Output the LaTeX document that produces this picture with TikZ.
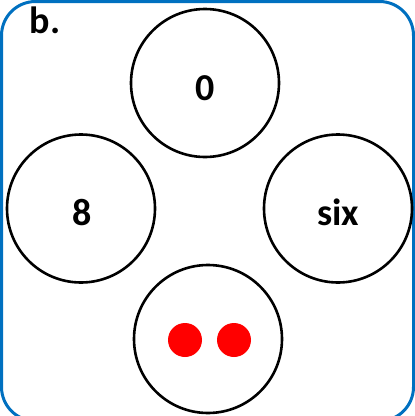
\documentclass[tikz,border=0pt]{standalone}
\usepackage{fontspec}
\setmainfont{Carlito}
\definecolor{frameblue}{RGB}{0,112,192}
\definecolor{dotred}{RGB}{255,0,0}
\begin{document}
\begin{tikzpicture}[x=1pt,y=-1pt,
  ring/.style={circle,draw=black,line width=2.6pt,minimum size=148pt,inner sep=0pt},
  lbl/.style={font=\bfseries\fontsize{38}{40}\selectfont,anchor=base,inner sep=0pt},
  dot/.style={circle,fill=dotred,minimum size=34pt,inner sep=0pt}]
\useasboundingbox (0,0) rectangle (415,416);
\begin{scope}
\clip (0,0) rectangle (415,416);
\draw[frameblue,line width=3pt,rounded corners=34pt] (1.5,1.5) rectangle (413.5,421);
\end{scope}
\node[lbl] (b) at (45,33) {b.};
\node[ring] (top) at (205,83) {};
\node[ring] (left) at (81,208.5) {};
\node[ring] (right) at (338,208.5) {};
\node[ring] (bottom) at (208,339) {};
\node[lbl] (t0) at (205,100) {0};
\node[lbl] (t8) at (82,225) {8};
\node[lbl] (tsix) at (338,225) {six};
\node[dot] (d1) at (185,340) {};
\node[dot] (d2) at (234,340) {};
\end{tikzpicture}
\end{document}
